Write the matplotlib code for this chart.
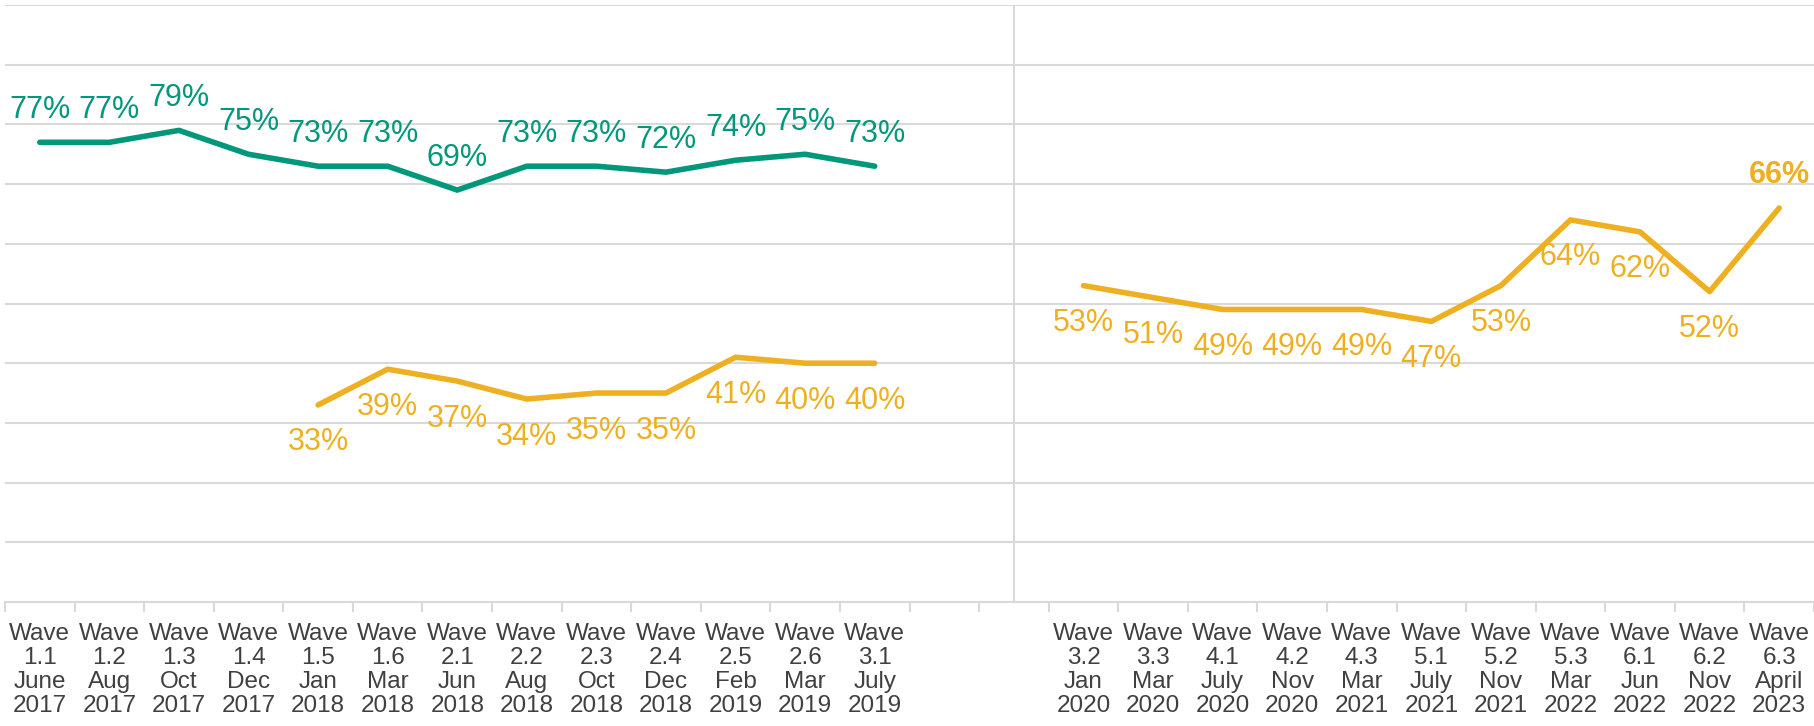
import matplotlib
matplotlib.use("Agg")
import matplotlib.pyplot as plt
import numpy as np

plt.rcParams['font.family'] = ['Liberation Sans', 'DejaVu Sans']

categories = [
    "Wave\n1.1\nJune\n2017", "Wave\n1.2\nAug\n2017", "Wave\n1.3\nOct\n2017", "Wave\n1.4\nDec\n2017",
    "Wave\n1.5\nJan\n2018", "Wave\n1.6\nMar\n2018", "Wave\n2.1\nJun\n2018", "Wave\n2.2\nAug\n2018",
    "Wave\n2.3\nOct\n2018", "Wave\n2.4\nDec\n2018", "Wave\n2.5\nFeb\n2019", "Wave\n2.6\nMar\n2019",
    "Wave\n3.1\nJuly\n2019", "", "",
    "Wave\n3.2\nJan\n2020", "Wave\n3.3\nMar\n2020", "Wave\n4.1\nJuly\n2020", "Wave\n4.2\nNov\n2020",
    "Wave\n4.3\nMar\n2021", "Wave\n5.1\nJuly\n2021", "Wave\n5.2\nNov\n2021", "Wave\n5.3\nMar\n2022",
    "Wave\n6.1\nJun\n2022", "Wave\n6.2\nNov\n2022", "Wave\n6.3\nApril\n2023",
]

green_idx = list(range(0, 13))
green_vals = [77, 77, 79, 75, 73, 73, 69, 73, 73, 72, 74, 75, 73]

yellow_left_idx = list(range(4, 13))
yellow_left_vals = [33, 39, 37, 34, 35, 35, 41, 40, 40]

yellow_right_idx = list(range(15, 26))
yellow_right_vals = [53, 51, 49, 49, 49, 47, 53, 64, 62, 52, 66]

GREEN = '#00977A'
YELLOW = '#EEB021'
GRID = '#D9D9D9'

fig = plt.figure(figsize=(18.14, 7.26), dpi=100)
ax = fig.add_axes([5/1814, 1 - 602/726, 1 - 5/1814, (602 - 5)/726])

ax.set_xlim(-0.5, len(categories) - 0.5)
ax.set_ylim(0, 100)

for y in range(10, 101, 10):
    ax.axhline(y, color=GRID, lw=1.5, zorder=0)
ax.axvline(14, color=GRID, lw=1.5, zorder=0)

ax.plot(green_idx, green_vals, color=GREEN, lw=4, solid_capstyle='round', solid_joinstyle='round')
ax.plot(yellow_left_idx, yellow_left_vals, color=YELLOW, lw=4, solid_capstyle='round', solid_joinstyle='round')
ax.plot(yellow_right_idx, yellow_right_vals, color=YELLOW, lw=4, solid_capstyle='round', solid_joinstyle='round')

fs = 22
for x, v in zip(green_idx, green_vals):
    ax.annotate(f"{v}%", (x, v), xytext=(0, 23), textcoords='offset points',
                ha='center', va='center', color=GREEN, fontsize=fs)
for x, v in zip(yellow_left_idx, yellow_left_vals):
    ax.annotate(f"{v}%", (x, v), xytext=(0, -27), textcoords='offset points',
                ha='center', va='center', color=YELLOW, fontsize=fs)
for i, (x, v) in enumerate(zip(yellow_right_idx, yellow_right_vals)):
    last = i == len(yellow_right_idx) - 1
    ax.annotate(f"{v}%", (x, v), xytext=(0, 24 if last else -27), textcoords='offset points',
                ha='center', va='center', color=YELLOW, fontsize=fs,
                fontweight='bold' if last else 'normal')

for s in ['top', 'right', 'left']:
    ax.spines[s].set_visible(False)
ax.spines['bottom'].set_color(GRID)
ax.spines['bottom'].set_linewidth(1.5)

ax.set_yticks([])
ax.set_xticks(range(len(categories)))
ax.set_xticklabels(categories, fontsize=17.5, color='#404040', linespacing=1.12)
ax.tick_params(axis='x', which='major', length=0, pad=15)
ax.set_xticks(np.arange(-0.5, len(categories), 1.0), minor=True)
ax.tick_params(axis='x', which='minor', length=7, width=1.5, color=GRID)

fig.savefig('out.png', dpi=100)
